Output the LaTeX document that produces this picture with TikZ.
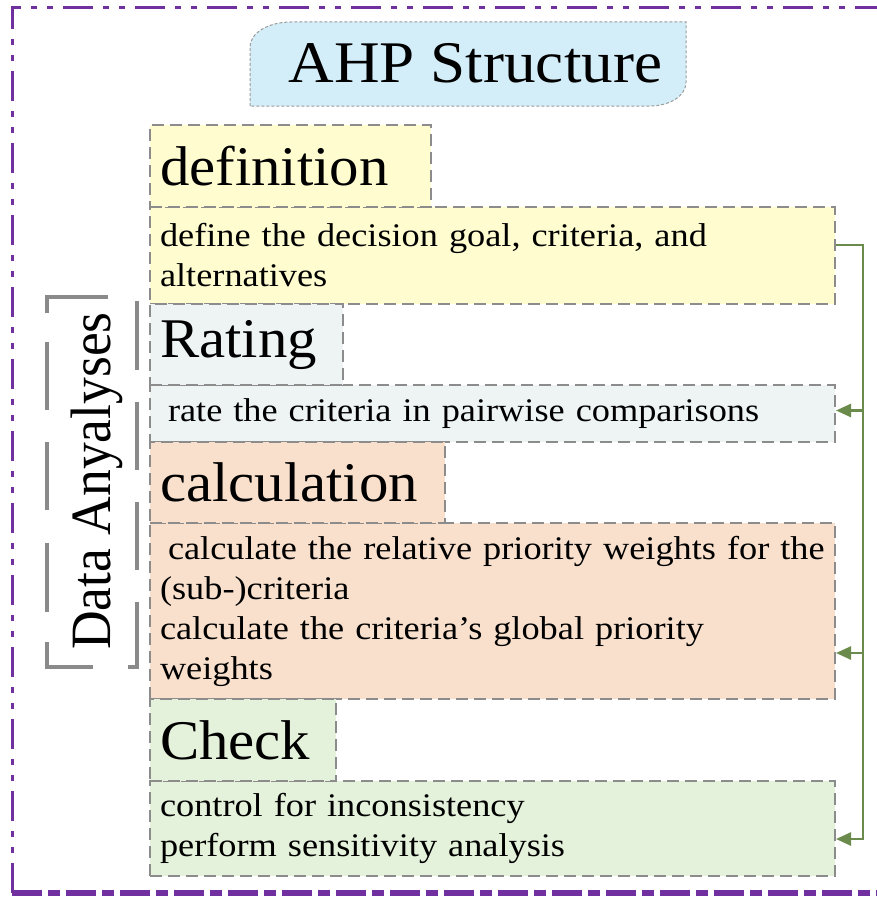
\documentclass[tikz,border=0pt]{standalone}
\usepackage{fontspec}
\setmainfont{Liberation Serif}
\newfontfamily\titlefont{Liberation Serif}[FakeStretch=1.07]
\newfontfamily\hdrfont{Liberation Serif}[FakeStretch=1.05]
\newfontfamily\bodyfont{Liberation Serif}[FakeStretch=1.1]
\newfontfamily\sidefont{Liberation Serif}[FakeStretch=0.94]
\usetikzlibrary{arrows.meta,calc}
\definecolor{titleblue}{HTML}{D4EEF9}
\definecolor{titleedge}{HTML}{9A9A9A}
\definecolor{defyellow}{HTML}{FFFDD0}
\definecolor{rategray}{HTML}{EEF4F4}
\definecolor{calcpeach}{HTML}{F8E0CD}
\definecolor{checkgreen}{HTML}{E5F2DB}
\definecolor{boxgray}{HTML}{8C8C8C}
\definecolor{conngreen}{HTML}{6A8B4B}
\definecolor{framepurple}{HTML}{7030A0}
\definecolor{bracketgray}{HTML}{8A8A8A}
\begin{document}
\begin{tikzpicture}[x=1pt,y=-1pt,
  stagebox/.style={draw=boxgray, line width=2pt, dash pattern=on 12pt off 6pt,
    rectangle, anchor=north west, inner xsep=10pt, inner ysep=0pt, align=left},
  hdrbox/.style={stagebox, font=\hdrfont\fontsize{56}{60}\selectfont},
  bodybox/.style={stagebox, minimum width=685pt, text width=665pt,
    font=\bodyfont\fontsize{33}{40}\selectfont},
  conn/.style={draw=conngreen, line width=2.5pt},
  connarrow/.style={conn, -{Triangle[length=15pt,width=13pt]}},
  bracketline/.style={draw=bracketgray, line width=4pt},
  frameline/.style={draw=framepurple, line width=3pt,
    dash pattern=on 30pt off 10pt on 6pt off 10pt on 6pt off 10pt}]
\useasboundingbox (0,0) rectangle (877,899);
\clip (0,0) rectangle (877,899);

% outer frame
\draw[frameline] (12,893) -- (12,8) -- (900,8);
\draw[draw=framepurple, line width=6pt, dash pattern=on 30pt off 6pt on 12pt off 6pt] (12,893) -- (900,893);

% title
\path[draw=titleedge, fill=titleblue, line width=1pt, dash pattern=on 3pt off 2pt]
  (250,106) -- (250,47) .. controls (250,32) and (270,22) .. (291,22) -- (686,22)
  -- (686,82) .. controls (686,97) and (668,106) .. (650,106) -- cycle;
\node[font=\titlefont\fontsize{59}{60}\selectfont, anchor=base, inner sep=0pt] (title) at (475.5,82) {AHP Structure};

% body boxes
\node[bodybox, fill=defyellow, minimum height=97pt] (defb) at (149,206)
  {\mbox{define the decision goal, criteria, and}\\alternatives};
\node[bodybox, fill=rategray, minimum height=57pt] (rateb) at (149,384)
  {\mbox{\hspace{8pt}rate the criteria in pairwise comparisons}};
\node[bodybox, fill=calcpeach, minimum height=176pt] (calcb) at (149,522)
  {\mbox{\hspace{8pt}calculate the relative priority weights for the}\\\mbox{(sub-)criteria}\\\mbox{calculate the criteria’s global priority}\\weights};
\node[bodybox, fill=checkgreen, minimum height=95pt] (checkb) at (149,780)
  {\mbox{control for inconsistency}\\\mbox{perform sensitivity analysis}};

% header boxes
\node[hdrbox, fill=defyellow, minimum width=281pt, text width=261pt, minimum height=82pt] (defh) at (149,124) {definition};
\node[hdrbox, fill=rategray, minimum width=193pt, text width=173pt, minimum height=81pt] (rateh) at (149,303) {Rating};
\node[hdrbox, fill=calcpeach, minimum width=295pt, text width=275pt, minimum height=81pt] (calch) at (149,441) {calculation};
\node[hdrbox, fill=checkgreen, minimum width=186pt, text width=166pt, minimum height=82pt] (checkh) at (149,698) {Check};

% connectors
\coordinate (rail) at (863,0);
\coordinate (s0) at ([yshift=10.5pt]defb.east);
\coordinate (t1) at ([yshift=3pt]rateb.east);
\coordinate (t2) at ([yshift=-42pt]calcb.east);
\coordinate (t3) at ([yshift=-10.5pt]checkb.east);
\draw[connarrow] (s0) -| (t3 -| rail) -- (t3);
\draw[connarrow] (t1 -| rail) -- (t1);
\draw[connarrow] (t2 -| rail) -- (t2);

% Data Anyalyses bracket
\draw[bracketline] (108,297) -- (47,297) -- (47,313);
\draw[bracketline] (47,342) -- (47,410);
\draw[bracketline] (47,442) -- (47,510);
\draw[bracketline] (47,543) -- (47,612);
\draw[bracketline] (47,642) -- (47,667) -- (93,667);
\draw[bracketline] (137,301) -- (137,370);
\draw[bracketline] (137,402) -- (137,470);
\draw[bracketline] (137,502) -- (137,570);
\draw[bracketline] (137,602) -- (137,667) -- (128,667);
\node[rotate=90, anchor=base, inner sep=0pt, font=\sidefont\fontsize{57}{60}\selectfont] (side) at (110,481) {Data Anyalyses};
\end{tikzpicture}
\end{document}
